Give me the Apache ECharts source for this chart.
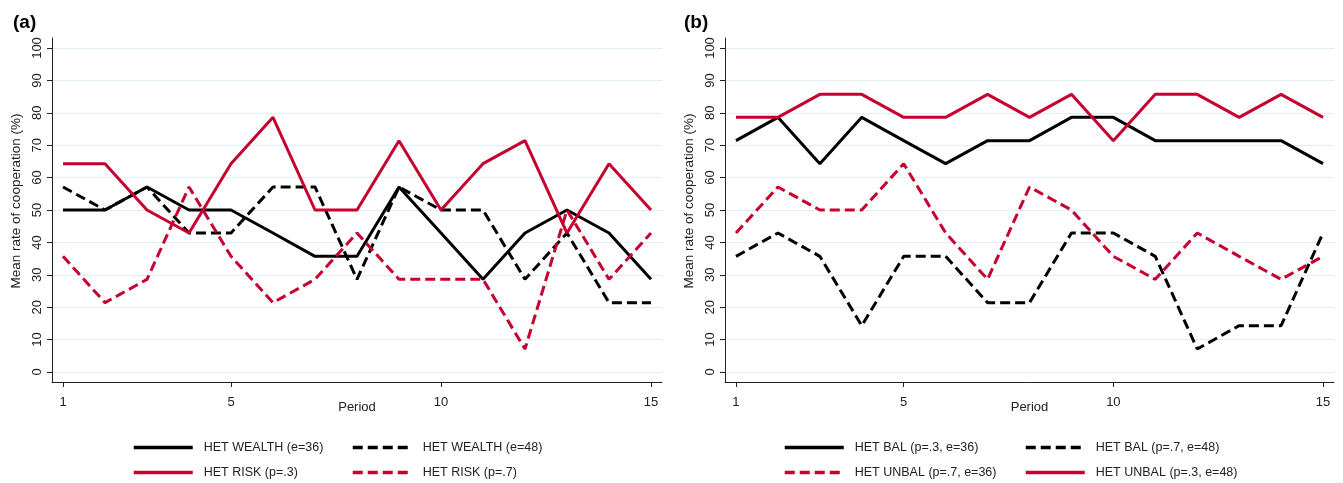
<!DOCTYPE html>
<html><head><meta charset="utf-8">
<script src="https://cdn.jsdelivr.net/npm/echarts@6/dist/echarts.min.js"></script>
<style>html,body{margin:0;padding:0;background:#fff}#c{width:1343px;height:483px}</style>
</head><body><div id="c"></div>
<script>
const periods = [1,2,3,4,5,6,7,8,9,10,11,12,13,14,15];
const xTicks = [1,5,10,15];
const yTicks = [0,10,20,30,40,50,60,70,80,90,100];

// Panel (a)
const hetWealth36 = [50,50,57.1,50,50,42.9,35.7,35.7,57.1,42.9,28.6,42.9,50,42.9,28.6];
const hetWealth48 = [57.1,50,57.1,42.9,42.9,57.1,57.1,28.6,57.1,50,50,28.6,42.9,21.4,21.4];
const hetRisk3    = [64.3,64.3,50,42.9,64.3,78.6,50,50,71.4,50,64.3,71.4,42.9,64.3,50];
const hetRisk7    = [35.7,21.4,28.6,57.1,35.7,21.4,28.6,42.9,28.6,28.6,28.6,7.1,50,28.6,42.9];

// Panel (b)
const hetBal36   = [71.4,78.6,64.3,78.6,71.4,64.3,71.4,71.4,78.6,78.6,71.4,71.4,71.4,71.4,64.3];
const hetBal48   = [35.7,42.9,35.7,14.3,35.7,35.7,21.4,21.4,42.9,42.9,35.7,7.1,14.3,14.3,42.9];
const hetUnbal36 = [42.9,57.1,50,50,64.3,42.9,28.6,57.1,50,35.7,28.6,42.9,35.7,28.6,35.7];
const hetUnbal48 = [78.6,78.6,85.7,85.7,78.6,78.6,85.7,78.6,85.7,71.4,85.7,85.7,78.6,85.7,78.6];

const names = {
  a: ['HET WEALTH (e=36)','HET WEALTH (e=48)','HET RISK (p=.3)','HET RISK (p=.7)'],
  b: ['HET BAL (p=.3, e=36)','HET BAL (p=.7, e=48)','HET UNBAL (p=.7, e=36)','HET UNBAL (p=.3, e=48)']
};

const BLACK = '#000000', RED = '#c6002f';
const FONT = 'Liberation Sans, Arial, sans-serif';
const DASH = [10,5];

function pairs(arr){ return periods.map((p,i)=>[p,arr[i]]); }

function xAxis(gi){
  return {
    type:'value', gridIndex:gi, min:0.738, max:15.262,
    name:'Period', nameLocation:'middle', nameGap:19, nameMoveOverlap:false,
    nameTextStyle:{color:'#222', fontSize:13, fontFamily:FONT},
    axisLine:{show:true, onZero:false, lineStyle:{color:'#222', width:1}},
    axisTick:{show:true, length:5, customValues:xTicks, lineStyle:{color:'#222'}},
    axisLabel:{customValues:xTicks, color:'#222', fontSize:13, fontFamily:FONT, margin:14},
    splitLine:{show:false}
  };
}
function yAxis(gi){
  return {
    type:'value', gridIndex:gi, min:-3.086, max:103.086,
    name:'Mean rate of cooperation (%)', nameLocation:'middle', nameGap:29, nameMoveOverlap:false,
    nameTextStyle:{color:'#222', fontSize:13.5, fontFamily:FONT, padding:[0,0,0,18]},
    axisLine:{show:true, onZero:false, lineStyle:{color:'#222', width:1}},
    axisTick:{show:true, length:5, customValues:yTicks, lineStyle:{color:'#222'}},
    axisLabel:{customValues:yTicks, rotate:90, color:'#222', fontSize:13, fontFamily:FONT, margin:8},
    splitLine:{show:true, lineStyle:{color:'#e4edf2', width:1}}
  };
}
function line(name, data, color, dashed, gi){
  return {
    name, type:'line', xAxisIndex:gi, yAxisIndex:gi, data:pairs(data),
    symbol:'none', silent:true, animation:false,
    lineStyle:{color, width:3, type: dashed ? DASH : 'solid'},
    itemStyle:{color}
  };
}
function legend(name, left, top){
  return {
    data:[name], left, top, padding:0, itemWidth:59, itemHeight:14,
    itemStyle:{opacity:0},
    lineStyle:{width:3.5},
    textStyle:{color:'#222', fontSize:12.5, fontFamily:FONT, padding:[0,0,0,6]},
    selectedMode:false
  };
}

const option = {
  animation:false,
  backgroundColor:'#fff',
  title:[
    {text:'(a)', left:8, top:8, textStyle:{fontSize:19, fontWeight:'bold', color:'#000', fontFamily:FONT}},
    {text:'(b)', left:679, top:8, textStyle:{fontSize:19, fontWeight:'bold', color:'#000', fontFamily:FONT}}
  ],
  grid:[
    {left:52, right:681, top:38, bottom:101},
    {left:725, right:9, top:38, bottom:101}
  ],
  xAxis:[xAxis(0), xAxis(1)],
  yAxis:[yAxis(0), yAxis(1)],
  legend:[
    legend(names.a[0],132,441), legend(names.a[1],351,441),
    legend(names.a[2],132,466), legend(names.a[3],351,466),
    legend(names.b[0],783,441), legend(names.b[1],1024,441),
    legend(names.b[2],783,466), legend(names.b[3],1024,466)
  ],
  series:[
    line(names.a[0], hetWealth36, BLACK, false, 0),
    line(names.a[1], hetWealth48, BLACK, true, 0),
    line(names.a[2], hetRisk3, RED, false, 0),
    line(names.a[3], hetRisk7, RED, true, 0),
    line(names.b[0], hetBal36, BLACK, false, 1),
    line(names.b[1], hetBal48, BLACK, true, 1),
    line(names.b[2], hetUnbal36, RED, true, 1),
    line(names.b[3], hetUnbal48, RED, false, 1)
  ]
};
const chart = echarts.init(document.getElementById('c'), null, {renderer:'canvas'});
chart.setOption(option);
</script></body></html>
